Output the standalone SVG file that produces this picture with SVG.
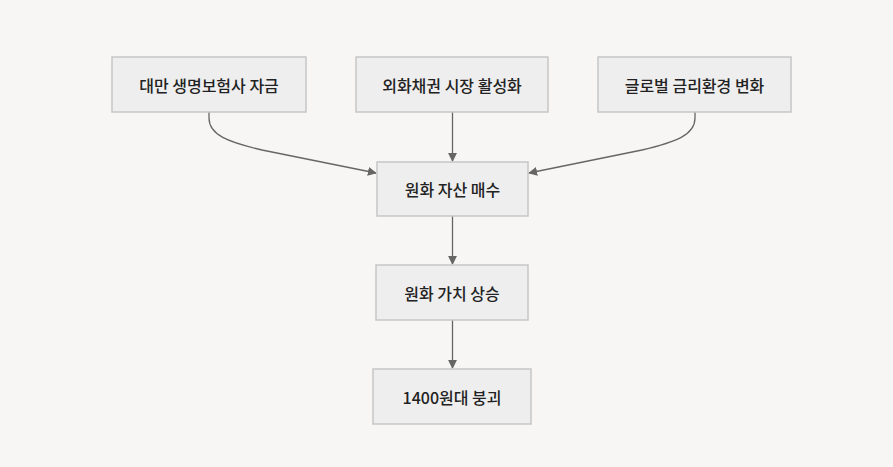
<svg xmlns="http://www.w3.org/2000/svg" width="893" height="467" viewBox="0 0 893 467">
<style>
.n rect{fill:#eeeeee;stroke:#c6c6c6;stroke-width:1.5}
.n text{font-family:"Noto Sans CJK KR","Noto Sans",sans-serif;font-size:16px;font-weight:500;fill:#222;text-anchor:middle;dominant-baseline:central}
.e path{fill:none;stroke:#666;stroke-width:1.3}
</style>
<defs>
<marker id="ah" viewBox="0 0 10 10" refX="9" refY="5" markerWidth="9" markerHeight="9" markerUnits="userSpaceOnUse" orient="auto">
<path d="M0,0 L10,5 L0,10 z" fill="#666"/>
</marker>
</defs>
<rect width="893" height="467" fill="#f7f6f4"/>
<g id="edges" class="e">
<path d="M209,112 V118 C209,135 228,142 262,150 L376,173" marker-end="url(#ah)"/>
<path d="M452.5,112 V161" marker-end="url(#ah)"/>
<path d="M695,112 V118 C695,135 676,142 642,150 L529,173" marker-end="url(#ah)"/>
<path d="M452.5,216 V264" marker-end="url(#ah)"/>
<path d="M452.5,320 V368" marker-end="url(#ah)"/>
</g>
<g id="n1" class="n"><rect x="112" y="57" width="194" height="55"/><text x="209" y="84.5">대만 생명보험사 자금</text></g>
<g id="n2" class="n"><rect x="356" y="57" width="192" height="55"/><text x="452" y="84.5">외화채권 시장 활성화</text></g>
<g id="n3" class="n"><rect x="598" y="57" width="193" height="55"/><text x="694.5" y="84.5">글로벌 금리환경 변화</text></g>
<g id="n4" class="n"><rect x="377" y="162" width="151" height="54"/><text x="452.5" y="189">원화 자산 매수</text></g>
<g id="n5" class="n"><rect x="376" y="265" width="152" height="55"/><text x="452" y="292.5">원화 가치 상승</text></g>
<g id="n6" class="n"><rect x="373" y="369" width="158" height="55"/><text x="452" y="396.5">1400원대 붕괴</text></g>
</svg>
